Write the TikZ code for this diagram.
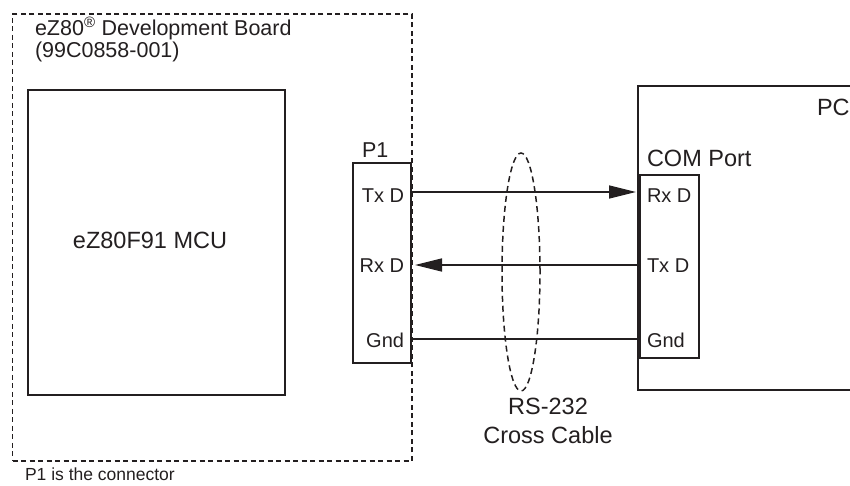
\documentclass[tikz,border=0pt]{standalone}
\usepackage{fontspec}
\setmainfont{Liberation Sans}
\usetikzlibrary{arrows.meta,shapes.geometric}
\definecolor{ink}{HTML}{231F20}
\begin{document}
\begin{tikzpicture}[x=1pt,y=-1pt,
  every node/.style={inner sep=0pt,outer sep=0pt,text=ink},
  box/.style={draw=ink,line width=1.6pt,rectangle},
  boardbox/.style={draw=ink,line width=1.5pt,rectangle,dash pattern=on 5pt off 3.5pt},
  cable/.style={draw=ink,line width=1.5pt,ellipse,dash pattern=on 6pt off 4pt},
  wire/.style={draw=ink,line width=1.6pt},
  tip/.style={-{Triangle[length=27pt,width=13pt]}},
  big/.style={font=\fontsize{23.5}{27}\selectfont},
  mid/.style={font=\fontsize{21.5}{25}\selectfont},
  pin/.style={font=\fontsize{20}{24}\selectfont},
  note/.style={font=\fontsize{17.5}{21}\selectfont}]
\useasboundingbox (0,0) rectangle (850,485);
\clip (0,0) rectangle (850,485);

% development board
\node[boardbox,minimum width=399.3pt,minimum height=447pt] (board) at (212.3,237.5) {};
\node[mid,anchor=base west] (title1) at (35,35) {eZ80\textsuperscript{®} Development Board};
\node[mid,anchor=base west] (title2) at (35,57) {(99C0858-001)};

% MCU
\node[box,minimum width=257pt,minimum height=305pt] (mcu) at (156.5,242.5) {};
\node[big] (mcutext) at (150,240) {eZ80F91 MCU};

% P1 connector
\node[box,minimum width=58pt,minimum height=200pt] (p1) at (382,263) {};
\node[mid,anchor=base west] (p1label) at (362,157) {P1};
\node[pin,anchor=base east] (p1tx) at (404,202) {Tx D};
\node[pin,anchor=base east] (p1rx) at (404,272) {Rx D};
\node[pin,anchor=base east] (p1gnd) at (404,347) {Gnd};

% PC
\node[box,minimum width=232pt,minimum height=304pt] (pc) at (754,238) {};
\node[big,anchor=base west] (pclabel) at (817,115) {PC};
\node[box,minimum width=59pt,minimum height=183pt] (com) at (669.5,266.5) {};
\node[big,anchor=base west] (comlabel) at (647,166) {COM Port};
\node[pin,anchor=base west] (comrx) at (647,202) {Rx D};
\node[pin,anchor=base west] (comtx) at (647,272) {Tx D};
\node[pin,anchor=base west] (comgnd) at (647,347) {Gnd};

% pin coordinates
\coordinate (ya) at (0,192);
\coordinate (yb) at (0,265);
\coordinate (yc) at (0,339);

% wires
\draw[wire,tip,shorten >=4pt] (p1.east |- ya) -- (com.west |- ya);
\draw[wire,tip,shorten >=4pt] (com.west |- yb) -- (p1.east |- yb);
\draw[wire] (p1.east |- yc) -- (com.west |- yc);

% cable
\node[cable,minimum width=38pt,minimum height=238pt] (cable) at (521,272) {};
\node[big,anchor=base] (rs) at (548,414) {RS-232};
\node[big,anchor=base] (cc) at (548,443) {Cross Cable};

% note
\node[note,anchor=base west] (note) at (25,480) {P1 is the connector};
\end{tikzpicture}
\end{document}
